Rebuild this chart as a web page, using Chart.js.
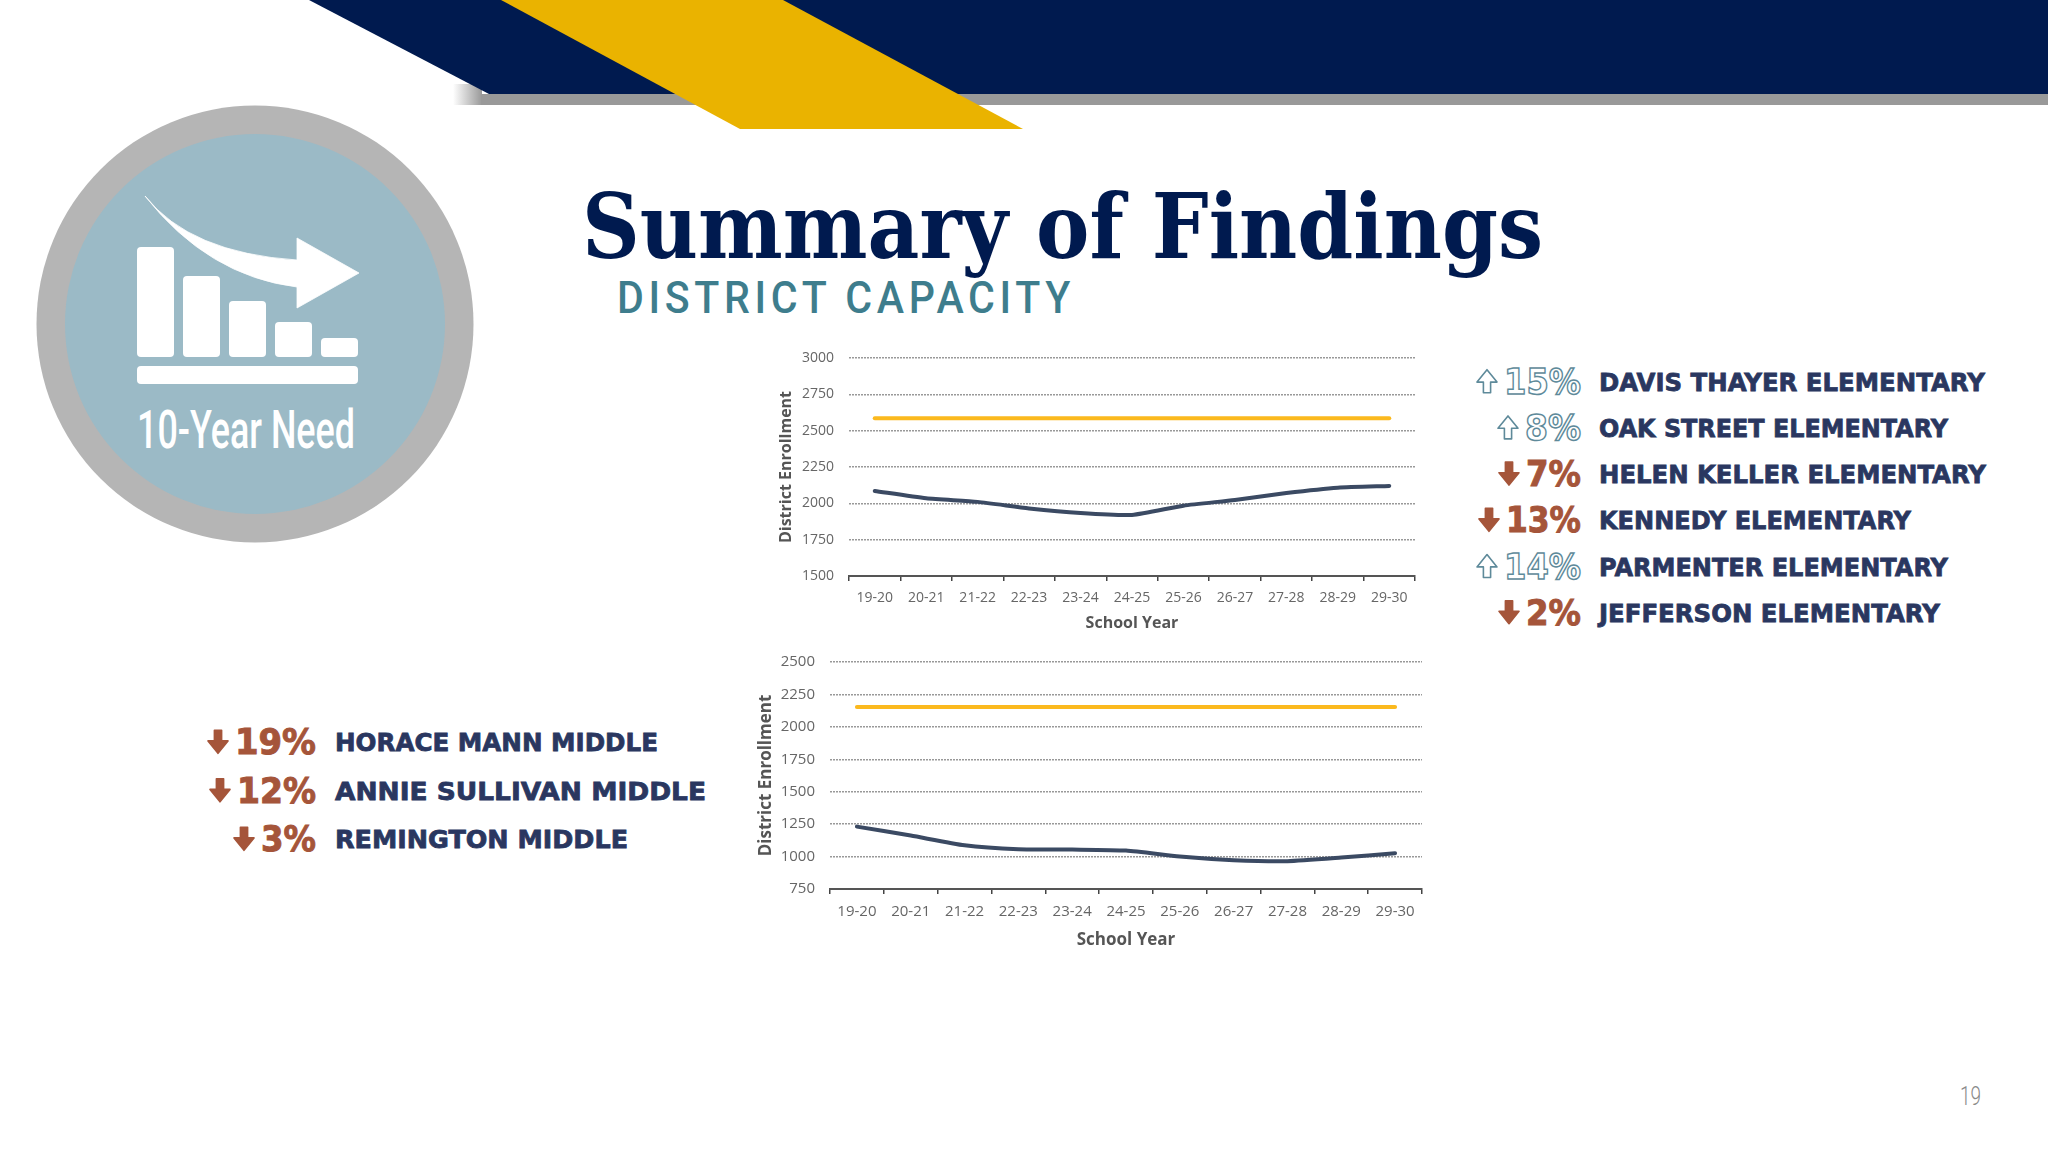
<!DOCTYPE html>
<html lang="en">
<head>
  <meta charset="UTF-8">
  <title>Summary of Findings</title>
  <style>
    html, body { margin: 0; background: #fff; }
    #page { position: relative; width: 2048px; height: 1152px; overflow: hidden; background: #fff; }
    #deco { position: absolute; left: 0; top: 0; }
    canvas { position: absolute; }
    #elem { left: 770px; top: 340px; }
    #mid { left: 750px; top: 644px; }
  </style>
</head>
<body>
<div id="page">
  <svg id="deco" width="2048" height="1152" xmlns="http://www.w3.org/2000/svg">
    <defs>
      <linearGradient id="fade" x1="0" x2="1" y1="0" y2="0">
        <stop offset="0" stop-color="#999" stop-opacity="0"/>
        <stop offset="1" stop-color="#999"/>
      </linearGradient>
    </defs>
    <!-- banner -->
    <rect x="453" y="84" width="29" height="21" fill="url(#fade)"/>
    <rect x="481" y="94" width="1567" height="11" fill="#999"/>
    <polygon points="309,0 2048,0 2048,94 489,94" fill="#001a4f"/>
    <polygon points="501,0 783,0 1023,129 740,129" fill="#eab300"/>

    <!-- 10-year need badge -->
    <circle cx="255" cy="324" r="218.5" fill="#b5b5b5"/>
    <circle cx="255" cy="324" r="190" fill="#9bbac6"/>
    <g fill="#fff">
      <rect x="137" y="247" width="37" height="110" rx="4"/>
      <rect x="183" y="276" width="37" height="81" rx="4"/>
      <rect x="229" y="301" width="37" height="56" rx="4"/>
      <rect x="275" y="322" width="37" height="35" rx="4"/>
      <rect x="321" y="338" width="37" height="19" rx="4"/>
      <rect x="137" y="366" width="221" height="18" rx="4"/>
      <path d="M145 196 Q190 253 297 260 L297 238 L359 273 L297 308 L297 287 Q208 276 145 196 Z" stroke="#fff" stroke-width="0.8"/>
    </g>
    <text x="137" y="448" textLength="218" lengthAdjust="spacingAndGlyphs" font-family="Roboto" font-weight="500" font-size="53" fill="#fff">10-Year Need</text>

    <!-- headings -->
    <text x="582" y="258" textLength="961" lengthAdjust="spacingAndGlyphs" font-family="DejaVu Serif" font-weight="700" font-size="90" fill="#001a4f">Summary of Findings</text>
    <text x="617" y="313" textLength="458" lengthAdjust="spacingAndGlyphs" font-family="Roboto" font-weight="500" font-size="44" letter-spacing="5" fill="#3e7d8d">DISTRICT CAPACITY</text>

    <text x="1960" y="1105" textLength="21" lengthAdjust="spacingAndGlyphs" font-family="Roboto" font-weight="300" font-size="26" fill="#8a8a8a">19</text>
  </svg>
  <canvas id="elem" width="660" height="300"></canvas>
  <canvas id="mid" width="687" height="313"></canvas>
</div>

<script src="https://cdn.jsdelivr.net/npm/chart.js"></script>
<script>
  // chart values
  const years = ['19-20', '20-21', '21-22', '22-23', '23-24', '24-25', '25-26', '26-27', '27-28', '28-29', '29-30'];
  const elemEnrollment = [2085, 2035, 2010, 1965, 1933, 1920, 1984, 2023, 2071, 2108, 2120];
  const elemCapacity = [2585, 2585, 2585, 2585, 2585, 2585, 2585, 2585, 2585, 2585, 2585];
  const midEnrollment = [1231, 1162, 1087, 1057, 1054, 1046, 1000, 972, 964, 992, 1026];
  const midCapacity = [2154, 2154, 2154, 2154, 2154, 2154, 2154, 2154, 2154, 2154, 2154];

  // school lists
  const elemSchools = ['DAVIS THAYER ELEMENTARY', 'OAK STREET ELEMENTARY', 'HELEN KELLER ELEMENTARY', 'KENNEDY ELEMENTARY', 'PARMENTER ELEMENTARY', 'JEFFERSON ELEMENTARY'];
  const elemChange = [15, 8, -7, -13, 14, -2];
  const midSchools = ['HORACE MANN MIDDLE', 'ANNIE SULLIVAN MIDDLE', 'REMINGTON MIDDLE'];
  const midChange = [-19, -12, -3];

  function makeChart(id, enrollment, capacity, yMin, yMax, yWidth, xHeight, titlePad, tickSize, titleSize) {
    const tickFont = { family: 'Open Sans', size: tickSize };
    const titleFont = { family: 'Open Sans', size: titleSize, weight: '700' };
    new Chart(document.getElementById(id), {
      type: 'line',
      data: {
        labels: years,
        datasets: [
          { data: capacity, borderColor: '#fbb91e', borderWidth: 4, pointRadius: 0, borderCapStyle: 'round' },
          { data: enrollment, borderColor: '#3b4a63', borderWidth: 4, pointRadius: 0, tension: 0.2, borderCapStyle: 'round' }
        ]
      },
      options: {
        responsive: false,
        animation: false,
        layout: { autoPadding: false, padding: { top: 18, right: 15, left: 0, bottom: 0 } },
        plugins: { legend: { display: false }, tooltip: { enabled: false } },
        scales: {
          x: {
            offset: true,
            afterFit: s => { s.height = xHeight; s.paddingLeft = 0; s.paddingRight = 0; },
            border: { color: '#555', width: 2 },
            grid: { offset: true, drawOnChartArea: false, tickLength: 5, color: '#444', lineWidth: 1.5 },
            ticks: { color: '#666', font: tickFont, padding: 9, maxRotation: 0, autoSkip: false },
            title: { display: true, text: 'School Year', color: '#555', font: titleFont, padding: { top: 8, bottom: 7 } }
          },
          y: {
            min: yMin,
            max: yMax,
            afterFit: s => { s.width = yWidth; s.paddingTop = 0; s.paddingBottom = 0; },
            border: { display: false, dash: [2, 1] },
            grid: { drawTicks: false, color: '#999', lineWidth: 1.5 },
            ticks: { stepSize: 250, color: '#666', font: tickFont, padding: 15, callback: v => String(v) },
            title: { display: true, text: 'District Enrollment', color: '#555', font: titleFont, padding: { top: titlePad, bottom: 4 } }
          }
        }
      }
    });
  }

  makeChart('elem', elemEnrollment, elemCapacity, 1500, 3000, 79, 64, 7, 14, 16);
  makeChart('mid', midEnrollment, midCapacity, 750, 2500, 80, 68, 6, 15, 17);

  // layout of the lists
  const SVG_NS = 'http://www.w3.org/2000/svg';
  const deco = document.getElementById('deco');

  function add(tag, attrs, text) {
    const el = document.createElementNS(SVG_NS, tag);
    for (const k in attrs) el.setAttribute(k, attrs[k]);
    if (text) el.textContent = text;
    deco.appendChild(el);
  }

  function arrow(x, y, w, h, up, fill, stroke) {
    const a = [[0.32, 0], [0.68, 0], [0.68, 0.46], [1, 0.46], [0.5, 1], [0, 0.46], [0.32, 0.46]];
    const pts = a.map(p => (x + p[0] * w) + ',' + (up ? y + h - p[1] * h : y + p[1] * h)).join(' ');
    add('polygon', { points: pts, fill: fill, stroke: stroke, 'stroke-width': 1.6, 'stroke-linejoin': 'round' });
  }

  function drawList(names, change, o) {
    names.forEach((name, i) => {
      const base = o.baseY + i * o.step;
      const up = change[i] > 0;
      add('text', {
        x: o.nameX, y: base, textLength: o.nameW[i], lengthAdjust: 'spacingAndGlyphs',
        'font-family': 'DejaVu Sans', 'font-weight': 700, 'font-size': 25.5, fill: '#2a3760',
        stroke: '#2a3760', 'stroke-width': 0.8
      }, name);
      const left = o.pctR - o.pctW[i];
      add('text', {
        x: left, y: base + 3, textLength: o.pctW[i], lengthAdjust: 'spacingAndGlyphs',
        'font-family': 'DejaVu Sans', 'font-weight': 700, 'font-size': 36,
        fill: up ? '#fff' : '#a5553a', stroke: up ? '#5e8a9a' : '#a5553a', 'stroke-width': up ? 1.5 : 1
      }, Math.abs(change[i]) + '%');
      arrow(left - o.arrowW - 7, base - 21, o.arrowW, 23, up, up ? '#fff' : '#a5553a', up ? '#5e8a9a' : '#a5553a');
    });
  }

  drawList(elemSchools, elemChange, {
    baseY: 390.7, step: 46.2, nameX: 1599, pctR: 1581, arrowW: 20,
    nameW: [386, 349, 387, 312, 349, 341],
    pctW: [77, 56, 55, 75, 77, 55]
  });
  drawList(midSchools, midChange, {
    baseY: 751.3, step: 48.5, nameX: 335, pctR: 316, arrowW: 20,
    nameW: [323, 371, 293],
    pctW: [81, 79, 55]
  });
</script>
</body>
</html>
